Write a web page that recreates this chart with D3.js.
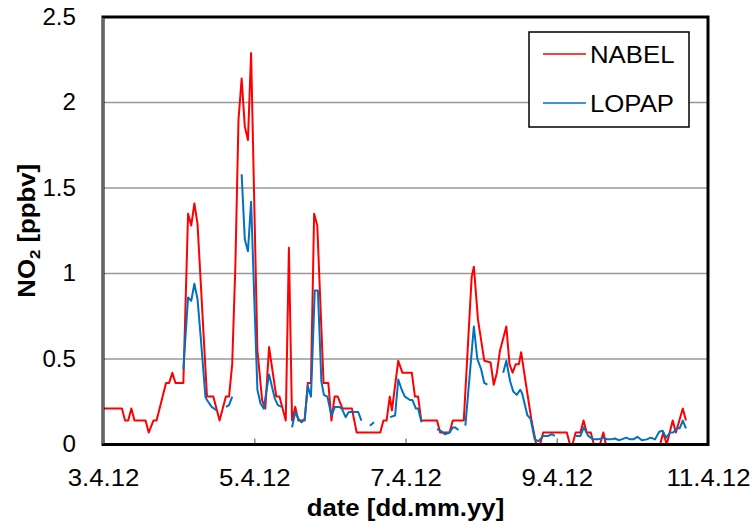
<!DOCTYPE html>
<html>
<head>
<meta charset="utf-8">
<script src="https://cdn.jsdelivr.net/npm/d3@7"></script>
<style>
  html, body { margin: 0; padding: 0; background: #fff; }
  svg text { font-family: 'Liberation Sans', Arial, sans-serif; fill: #000; }
</style>
</head>
<body>
<div id="chart"></div>
<script>
// DATA (hours after 3.4.12 00:00, NO2 in ppbv)
const nabelHours = [0, 6, 7, 8, 9, 10, 13.5, 14.5, 16, 17, 20, 21, 22, 23, 25.5, 27, 28, 29, 30, 33, 35, 37, 39, 40, 41, 42, 43, 44, 45, 46, 47, 49, 50.5, 51.5, 52.7, 55, 56, 58, 59, 60, 61, 62, 64, 65, 66, 67, 68, 70, 71.5, 72.5, 73.5, 74.5, 76, 79, 80.5, 88, 89, 90, 91, 91.7, 93.7, 95, 98, 99, 100, 101, 106, 107, 110, 111, 114.5, 117, 117.7, 119, 121, 123, 124, 125, 126, 128, 129, 130, 131, 132, 132.7, 134, 136, 137.5, 138.7, 139.7, 147.2, 148.2, 149, 150, 151.5, 152.5, 153.5, 154.8, 155.8, 157.7, 158.8, 159.6, 176.8, 177.8, 178.9, 180.8, 181.8, 184, 185]
const nabelValues = [0.21, 0.21, 0.14, 0.14, 0.21, 0.14, 0.14, 0.07, 0.14, 0.14, 0.36, 0.36, 0.42, 0.36, 0.36, 1.35, 1.28, 1.41, 1.29, 0.28, 0.28, 0.14, 0.28, 0.28, 0.47, 1.04, 1.90, 2.14, 1.86, 1.78, 2.29, 0.55, 0.26, 0.21, 0.57, 0.28, 0.28, 0.14, 1.15, 0.14, 0.22, 0.14, 0.14, 0.36, 0.36, 1.35, 1.28, 0.36, 0.36, 0.14, 0.28, 0.28, 0.21, 0.21, 0.07, 0.07, 0.14, 0.14, 0.28, 0.2, 0.49, 0.42, 0.42, 0.28, 0.28, 0.14, 0.14, 0.07, 0.07, 0.14, 0.14, 0.98, 1.04, 0.73, 0.49, 0.48, 0.35, 0.42, 0.55, 0.69, 0.47, 0.42, 0.47, 0.47, 0.54, 0.38, 0.14, 0, 0, 0.07, 0.07, 0, 0, 0.07, 0.07, 0.14, 0.07, 0.07, 0, 0, 0.07, 0, 0, 0.07, 0, 0.14, 0.07, 0.21, 0.14]

// null = gap in the LOPAP record
const lopapHours = [25.5, 27, 28, 29, 30, 31, 32.5, 33, 34.5, 36, 36.5, 39, 40, 41, 42, 44, 45, 46, 47, 48, 49, 50, 51, 52.7, 54.5, 55.5, 56.7, 57.5, 60, 61, 62, 63, 64, 65, 66, 67.2, 68.2, 69.3, 70.1, 71.2, 72.5, 73.6, 75, 75.8, 77, 78, 80, 81, 82, 83, 84.7, 86, 87, 91.1, 92.7, 93.7, 94.8, 95.8, 97.4, 98.2, 99.3, 100, 101.1, 102, 106, 107.2, 108.5, 110, 111, 111.7, 112.8, 113.5, 115, 117.7, 118.8, 120, 121, 122, 123, 127, 128, 129.2, 130.2, 131.3, 132.4, 133, 134.7, 135.7, 137, 138.2, 139.7, 141.3, 142.4, 143.4, 144, 150, 151.5, 152.6, 154, 155.6, 157.2, 158.8, 160, 161, 162.5, 163.6, 164.6, 166, 167.3, 168.3, 169.6, 171, 172.6, 173.8, 175.2, 176.5, 177.6, 178.7, 180, 181, 182, 183, 184, 185]
const lopapValues = [0.44, 0.86, 0.84, 0.94, 0.85, 0.63, 0.28, 0.26, 0.22, 0.2, null, 0.22, 0.23, 0.28, null, 1.58, 1.2, 1.13, 1.42, 0.86, 0.32, 0.24, 0.21, 0.41, 0.27, 0.23, 0.22, null, 0.1, 0.19, 0.15, 0.13, 0.15, 0.34, 0.28, 0.9, 0.9, 0.37, 0.29, 0.28, 0.17, 0.22, 0.22, 0.21, 0.16, 0.19, 0.19, 0.19, 0.14, null, 0.11, 0.13, null, 0.16, 0.17, 0.38, 0.32, 0.28, 0.26, 0.26, 0.21, 0.21, 0.13, null, 0.09, 0.08, 0.06, 0.07, 0.1, 0.1, 0.085, null, 0.11, 0.69, 0.5, 0.44, 0.36, 0.35, null, 0.42, 0.49, 0.37, 0.31, 0.29, 0.32, 0.3, 0.17, 0.15, 0.03, 0.02, 0.05, 0.05, 0.06, 0.05, null, 0.05, 0.05, 0.1, 0.05, 0.03, 0.03, 0.04, 0.03, 0.03, 0.035, 0.025, 0.03, 0.04, 0.03, 0.03, 0.045, 0.025, 0.03, 0.04, 0.03, 0.075, 0.08, 0.04, 0.07, 0.07, 0.095, 0.095, 0.14, 0.095]

const xTickDays = [3, 5, 7, 9, 11]
const yTicks = [0, 0.5, 1, 1.5, 2, 2.5]
const seriesNames = ['NABEL', 'LOPAP']
const seriesColors = ['#ff0000', '#0070c0']

// SETTINGS
const settings = {
    width: 751,
    height: 527,
    margins: { left: 103, right: 43, top: 17, bottom: 82.5 },
    font: 23,
    stretch: 1.12   // the original text is a bit wider than Arial
}
const plotW = settings.width - settings.margins.left - settings.margins.right
const plotH = settings.height - settings.margins.top - settings.margins.bottom

const start = new Date(2012, 3, 3)
const toDate = h => new Date(start.getTime() + h * 3600e3)

// widen text horizontally to match the reference lettering
function stretchText(sel, k) {
    sel.each(function() {
        const w = this.getComputedTextLength()
        d3.select(this).attr('textLength', w * k).attr('lengthAdjust', 'spacingAndGlyphs')
    })
}

const x = d3.scaleTime()
    .domain([start, new Date(2012, 3, 11)])
    .range([0, plotW])

const y = d3.scaleLinear()
    .domain([0, 2.5])
    .range([plotH, 0])

const svg = d3.select('#chart').append('svg')
    .attr('width', settings.width)
    .attr('height', settings.height)

const g = svg.append('g')
    .attr('transform', `translate(${settings.margins.left}, ${settings.margins.top})`)

// gridlines
g.selectAll('.grid')
    .data(yTicks.filter(t => t > 0 && t < 2.5))
    .enter().append('line')
    .attr('x1', 0).attr('x2', plotW)
    .attr('y1', d => y(d)).attr('y2', d => y(d))
    .attr('stroke', '#999').attr('stroke-width', 1.5)

// y axis labels
const yAxis = d3.axisLeft(y).tickValues(yTicks).tickSize(0).tickPadding(27).tickFormat(d3.format('~g'))
g.append('g').call(yAxis)
    .call(a => a.select('.domain').remove())
    .selectAll('text').style('font-size', settings.font + 'px')
    .call(stretchText, 1.05)

// x axis
const xAxis = d3.axisBottom(x)
    .tickValues(xTickDays.map(d => new Date(2012, 3, d)))
    .tickFormat(d3.timeFormat('%-d.%-m.%y'))
    .tickSize(-6).tickPadding(25)
g.append('g')
    .attr('transform', `translate(0, ${plotH})`)
    .call(xAxis)
    .call(a => a.select('.domain').remove())
    .call(a => a.selectAll('line').attr('stroke', '#888').attr('stroke-width', 1.5))
    .selectAll('text').style('font-size', settings.font + 'px')
    .call(stretchText, settings.stretch)

// series
const line = d3.line()
    .defined(d => d.v != null)
    .x(d => x(toDate(d.h)))
    .y(d => y(d.v))

const nabel = nabelHours.map((h, i) => ({ h, v: nabelValues[i] }))
const lopap = lopapHours.map((h, i) => ({ h, v: lopapValues[i] }))

g.append('path').datum(nabel)
    .attr('d', line).attr('fill', 'none')
    .attr('stroke', seriesColors[0]).attr('stroke-width', 2).attr('stroke-linejoin', 'round')

g.append('path').datum(lopap)
    .attr('d', line).attr('fill', 'none')
    .attr('stroke', seriesColors[1]).attr('stroke-width', 2).attr('stroke-linejoin', 'round')

// frame
g.append('rect')
    .attr('x', 0).attr('y', 0).attr('width', plotW).attr('height', plotH)
    .attr('fill', 'none').attr('stroke', '#000').attr('stroke-width', 3)
g.append('line')
    .attr('x1', 0).attr('x2', 0).attr('y1', 1).attr('y2', plotH - 1)
    .attr('stroke', '#666').attr('stroke-width', 2)

// axis titles
svg.append('text')
    .attr('x', settings.margins.left + plotW / 2)
    .attr('y', 516)
    .attr('text-anchor', 'middle')
    .style('font-size', settings.font + 'px').style('font-weight', 'bold')
    .text('date [dd.mm.yy]')
    .call(stretchText, settings.stretch)

const yTitle = svg.append('text')
    .attr('transform', `translate(35, ${settings.margins.top + plotH / 2}) rotate(-90)`)
    .attr('text-anchor', 'middle')
    .style('font-size', settings.font + 'px').style('font-weight', 'bold')
yTitle.append('tspan').text('NO')
yTitle.append('tspan').attr('dy', 5).style('font-size', '15px').text('2')
yTitle.append('tspan').attr('dy', -5).text(' [ppbv]')
yTitle.call(stretchText, settings.stretch)

// legend
const legend = svg.append('g').attr('transform', 'translate(529, 32)')
legend.append('rect')
    .attr('width', 160).attr('height', 95)
    .attr('fill', '#fff').attr('stroke', '#000').attr('stroke-width', 1.5)
seriesNames.forEach((name, i) => {
    const ly = 22 + i * 49
    legend.append('line')
        .attr('x1', 14).attr('x2', 57).attr('y1', ly).attr('y2', ly)
        .attr('stroke', seriesColors[i]).attr('stroke-width', 1.5)
    legend.append('text')
        .attr('x', 61).attr('y', ly + 8.5)
        .style('font-size', settings.font + 'px')
        .text(name)
        .call(stretchText, settings.stretch)
})
</script>
</body>
</html>
